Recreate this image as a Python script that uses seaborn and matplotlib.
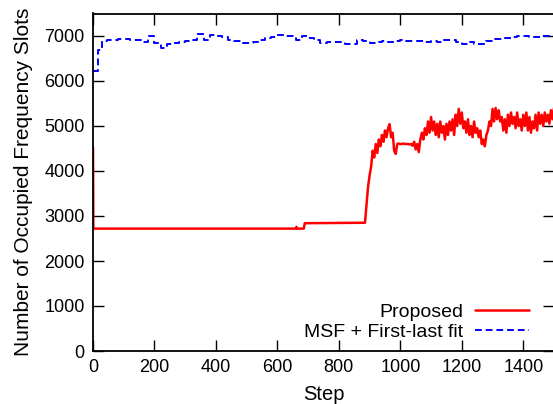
import numpy as np
import pandas as pd
import matplotlib
matplotlib.use("Agg")
import matplotlib.pyplot as plt
import seaborn as sns

# ---------------- data ----------------
# Proposed: initial/flat part (step, value)
red_flat_steps = [0, 1, 660, 662, 664, 686, 689, 885]
red_flat_vals = [4520, 2720, 2720, 2760, 2720, 2720, 2840, 2850]

# Proposed: noisy part, every 5 steps from 890 to 1500
red_noisy_steps = list(range(890, 1501, 5))
red_noisy_vals = [
    3250, 3650, 3900, 4100, 4450, 4300, 4600, 4400, 4700,
    4550, 4800, 4650, 4900, 4750, 4950, 5040, 4750, 4850, 4450,
    4380, 4600, 4610, 4600, 4600, 4610, 4600, 4600, 4600, 4590,
    4600, 4560, 4650, 4480, 4600, 4420, 4700, 4850, 4700, 4950,
    4800, 5100, 4850, 5200, 4900, 5100, 4800, 5050, 4750, 5100,
    4850, 5000, 4700, 5050, 4800, 5100, 4900, 5150, 4800, 5250,
    5000, 5380, 5050, 5300, 4950, 5100, 4850, 5150, 4800, 5000,
    4750, 5100, 4850, 4950, 4750, 4900, 4600, 4700, 4550, 4800,
    4900, 5100, 5000, 5380, 5100, 5400, 5150, 5350, 5100, 5200,
    4900, 5150, 4850, 5250, 5000, 5300, 5050, 5200, 4950, 5300,
    5000, 5150, 4900, 5250, 5000, 5300, 4900, 5200, 4850, 5100,
    4950, 5250, 4900, 5300, 5050, 5250, 5000, 5300, 5100, 5250,
    5050, 5350, 5150, 5400,
]

# MSF + First-last fit (step function)
blue_steps = [0, 15, 30, 45] + list(range(60, 1501, 20))
blue_vals = [
    6220, 6690, 6880, 6910,
    6910, 6940, 6940, 6905, 6905, 6875, 7000, 6850, 6730, 6820,
    6840, 6870, 6880, 6905, 7040, 6900, 7030, 6990, 6980, 6910,
    6880, 6850, 6850, 6870, 6920, 6960, 6980, 7030, 7010, 7000,
    6920, 6990, 6960, 6910, 6850, 6860, 6860, 6870, 6820, 6820,
    6900, 6880, 6850, 6860, 6880, 6875, 6890, 6900, 6890, 6880,
    6880, 6875, 6880, 6870, 6920, 6900, 6870, 6820, 6870, 6820,
    6830, 6890, 6930, 6940, 6950, 6975, 7000, 6990, 6980, 6980,
    7000, 7000, 6990,
]

x_ticks = [0, 200, 400, 600, 800, 1000, 1200, 1400]
y_ticks = [0, 1000, 2000, 3000, 4000, 5000, 6000, 7000]

red_df = pd.DataFrame({"Step": red_flat_steps + red_noisy_steps,
                       "Slots": red_flat_vals + red_noisy_vals})
blue_df = pd.DataFrame({"Step": blue_steps, "Slots": blue_vals})

# ---------------- style ----------------
sns.set_theme(style="ticks")
plt.rcParams["font.family"] = ["Liberation Sans", "DejaVu Sans"]
plt.rcParams["text.color"] = "black"
plt.rcParams["axes.labelcolor"] = "black"

fig = plt.figure(figsize=(5.53, 4.04), dpi=100)
ax = fig.add_axes([93 / 553, 53 / 404, 461 / 553, 337.5 / 404])

sns.lineplot(data=red_df, x="Step", y="Slots", ax=ax, color="#ff0000",
             linewidth=1.8, estimator=None, sort=False, label="Proposed")
sns.lineplot(data=blue_df, x="Step", y="Slots", ax=ax, color="#0000ff",
             linewidth=1.4, estimator=None, sort=False, drawstyle="steps-post",
             linestyle=(0, (3.5, 2)), label="MSF + First-last fit")

ax.set_xlim(0, 1500)
ax.set_ylim(0, 7500)
ax.set_xticks(x_ticks)
ax.set_yticks(y_ticks)
ax.set_xlabel("Step", fontsize=14.5, labelpad=6, color="black")
ax.set_ylabel("Number of Occupied Frequency Slots", fontsize=15, labelpad=8,
              color="black")

ax.tick_params(axis="both", direction="in", length=8, width=1,
               labelsize=13, colors="black", top=True, right=True, pad=6)
for s in ax.spines.values():
    s.set_visible(True)
    s.set_linewidth(1.3)
    s.set_color("black")

leg = ax.legend(loc="lower right", bbox_to_anchor=(0.972, -0.004),
                frameon=False, markerfirst=False, fontsize=14,
                handlelength=2.8, handletextpad=0.6, labelspacing=0.12,
                borderaxespad=0.2)
for t in leg.get_texts():
    t.set_color("black")

fig.savefig("out.png", dpi=100)
